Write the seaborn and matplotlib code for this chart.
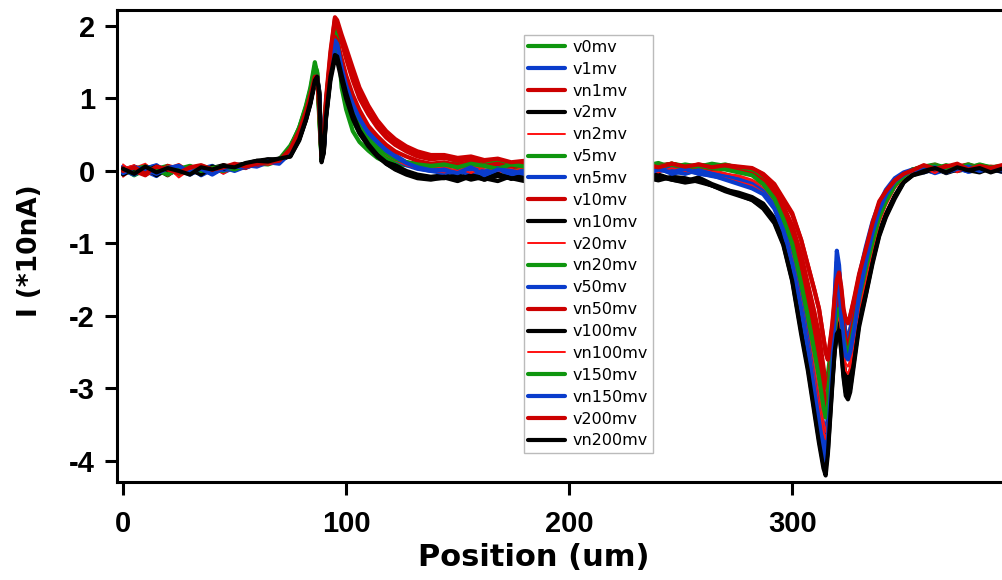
import matplotlib
matplotlib.use("Agg")
import matplotlib.pyplot as plt
import seaborn as sns

# ---- x positions (um) at which the traces were read ----
positions = [0, 5, 10, 15, 20, 25, 30, 35, 40, 45, 50, 55, 60, 65, 70,
             75, 79, 82, 84, 86, 87, 88, 89, 90, 91, 93, 95, 96, 98, 100, 103, 106, 110, 114, 118, 122, 127, 132, 138,
             144, 150, 156, 162, 168, 174, 180, 186, 192, 198, 204, 210, 216, 222, 228, 234, 240, 246, 252, 258, 264, 270, 276, 282,
             287, 292, 296, 300, 304, 307, 310, 312, 314, 315, 316, 318, 319, 320, 321, 322, 323, 324, 325, 326, 328, 330, 333, 336, 339, 342, 346, 350, 354,
             359, 364, 369, 374, 379, 384, 389, 394]

# ---- currents (*10 nA) read for each trace ----
v0mv = [0.03,-0.06,0.02,0.05,-0.02,0.04,-0.03,0.06,0.0,0.04,0.02,0.07,0.1,0.09,0.14,
        0.32,0.6,0.9,1.15,1.5,1.35,0.7,0.15,0.45,0.95,1.55,2.05,1.9,1.15,0.85,0.55,0.4,0.28,0.18,0.12,0.1,0.08,0.06,0.05,
        0.04,0.08,0.02,0.06,0.1,0.03,0.07,0.12,0.05,0.08,0.04,0.1,0.06,0.09,0.03,0.08,0.05,0.1,0.07,0.04,0.09,0.05,0.02,-0.02,
        -0.1,-0.3,-0.55,-0.85,-1.3,-1.7,-2.1,-2.4,-2.75,-2.9,-2.8,-2.3,-1.95,-1.7,-1.6,-1.8,-2.05,-2.25,-2.3,-2.2,-1.95,-1.6,-1.25,-0.9,-0.6,-0.4,-0.2,-0.08,0.0,
        0.05,0.02,0.07,0.03,0.06,0.01,0.05,0.03]
v1mv = [-0.04,0.05,0.0,-0.07,0.06,0.02,-0.05,0.03,0.07,-0.02,0.05,0.08,0.06,0.12,0.1,
        0.25,0.5,0.78,1.0,1.25,1.3,0.95,0.2,0.35,0.85,1.45,1.9,1.8,1.45,1.2,0.95,0.75,0.55,0.42,0.3,0.22,0.12,0.06,0.02,
        0.0,-0.05,0.04,-0.02,0.03,-0.06,0.02,0.05,-0.03,0.01,0.04,-0.04,0.02,0.0,0.05,-0.02,0.03,0.0,-0.04,0.02,-0.02,-0.05,-0.1,-0.15,
        -0.25,-0.45,-0.75,-1.15,-1.75,-2.3,-2.85,-3.2,-3.5,-3.6,-3.4,-2.5,-1.9,-1.25,-1.4,-1.8,-2.1,-2.35,-2.4,-2.3,-1.95,-1.6,-1.15,-0.8,-0.5,-0.3,-0.12,-0.05,0.02,
        0.0,0.04,-0.02,0.03,0.0,0.05,0.02,-0.01]
vn1mv = [0.05,-0.03,0.07,0.0,0.04,-0.05,0.06,0.02,-0.02,0.08,0.03,0.05,0.1,0.13,0.12,
         0.28,0.52,0.82,1.05,1.3,1.28,0.9,0.25,0.4,0.9,1.5,2.0,1.98,1.8,1.6,1.3,1.05,0.8,0.62,0.48,0.38,0.3,0.22,0.18,
         0.2,0.16,0.18,0.13,0.15,0.1,0.13,0.08,0.11,0.07,0.1,0.06,0.09,0.05,0.08,0.1,0.06,0.08,0.04,0.09,0.06,0.08,0.05,0.03,
         -0.05,-0.2,-0.4,-0.6,-0.95,-1.3,-1.65,-1.9,-2.3,-2.5,-2.6,-2.15,-1.8,-1.55,-1.45,-1.65,-1.95,-2.05,-2.1,-2.0,-1.75,-1.45,-1.1,-0.75,-0.45,-0.3,-0.15,-0.05,0.0,
         0.06,0.02,0.05,0.08,0.03,0.06,0.02,0.04]
v2mv = [0.02,0.06,-0.04,0.03,-0.06,0.05,0.0,-0.03,0.04,0.08,0.05,0.1,0.14,0.16,0.15,
        0.22,0.45,0.72,0.95,1.25,1.3,1.1,0.2,0.3,0.8,1.35,1.7,1.65,1.35,1.1,0.8,0.6,0.4,0.28,0.15,0.08,0.0,-0.05,-0.08,
        -0.06,-0.1,-0.04,-0.12,-0.07,-0.1,-0.05,-0.09,-0.12,-0.06,-0.1,-0.04,-0.08,-0.11,-0.06,-0.09,-0.13,-0.08,-0.1,-0.15,-0.2,-0.26,-0.3,-0.36,
        -0.45,-0.65,-0.95,-1.4,-2.05,-2.6,-3.1,-3.45,-3.75,-3.8,-3.6,-2.8,-2.4,-2.1,-2.0,-2.3,-2.6,-2.85,-2.9,-2.8,-2.4,-2.0,-1.6,-1.2,-0.85,-0.6,-0.35,-0.15,-0.05,
        0.02,-0.02,0.04,0.0,0.03,0.06,0.01,0.04]
vn2mv = [-0.08,0.04,0.1,-0.05,0.02,0.07,-0.02,0.03,0.05,-0.04,0.06,0.04,0.09,0.11,0.13,
         0.27,0.5,0.75,1.0,1.2,1.25,0.9,0.15,0.35,0.85,1.4,1.8,1.75,1.4,1.15,0.9,0.7,0.5,0.38,0.28,0.2,0.12,0.08,0.05,
         0.03,0.07,0.0,0.05,0.08,-0.02,0.06,0.03,0.09,0.01,0.05,0.07,0.0,0.04,0.08,0.02,0.06,0.0,0.05,0.03,0.0,-0.04,-0.06,-0.12,
         -0.2,-0.38,-0.65,-1.0,-1.55,-2.05,-2.6,-2.95,-3.3,-3.4,-3.3,-2.6,-2.2,-1.9,-1.8,-2.05,-2.35,-2.55,-2.6,-2.5,-2.15,-1.8,-1.35,-0.95,-0.6,-0.38,-0.18,-0.06,0.03,
         0.08,0.0,0.05,-0.02,0.07,0.02,0.05,0.0]
v5mv = [0.0,0.04,-0.05,0.03,0.07,-0.02,0.04,0.0,0.06,0.02,0.07,0.05,0.11,0.1,0.16,
        0.35,0.58,0.85,1.1,1.4,1.35,0.8,0.18,0.4,0.9,1.5,1.95,1.85,1.3,1.0,0.7,0.52,0.36,0.25,0.18,0.14,0.1,0.08,0.06,
        0.08,0.12,0.06,0.1,0.05,0.09,0.13,0.07,0.1,0.04,0.08,0.11,0.06,0.09,0.05,0.12,0.07,0.1,0.05,0.08,0.06,0.09,0.04,0.01,
        -0.12,-0.32,-0.6,-0.9,-1.4,-1.8,-2.2,-2.5,-2.85,-3.0,-2.9,-2.4,-2.05,-1.8,-1.7,-1.85,-2.1,-2.3,-2.35,-2.25,-2.0,-1.65,-1.3,-0.95,-0.62,-0.42,-0.2,-0.07,0.02,
        0.06,0.09,0.04,0.07,0.02,0.08,0.05,0.07]
vn5mv = [0.06,-0.02,0.03,0.08,-0.04,0.01,0.05,-0.06,0.02,0.05,0.0,0.06,0.09,0.14,0.12,
         0.24,0.48,0.74,0.98,1.22,1.25,1.0,0.22,0.3,0.78,1.35,1.75,1.72,1.4,1.15,0.88,0.68,0.48,0.35,0.25,0.16,0.08,0.03,0.0,
         -0.03,0.02,-0.06,0.0,0.04,-0.04,0.01,-0.07,0.03,-0.02,0.0,0.04,-0.05,0.02,-0.03,0.01,0.04,-0.04,0.0,-0.03,-0.07,-0.1,-0.16,-0.22,
         -0.3,-0.5,-0.8,-1.25,-1.85,-2.4,-3.0,-3.35,-3.75,-3.9,-3.6,-2.7,-2.0,-1.35,-1.5,-1.95,-2.25,-2.45,-2.5,-2.4,-2.05,-1.65,-1.2,-0.82,-0.52,-0.32,-0.13,-0.04,0.0,
         0.03,-0.03,0.02,0.05,-0.01,0.03,0.0,0.04]
v10mv = [-0.03,0.06,0.01,-0.04,0.07,0.03,-0.01,0.05,0.0,0.06,0.08,0.04,0.12,0.1,0.15,
         0.3,0.55,0.82,1.05,1.3,1.32,0.85,0.2,0.42,0.95,1.6,2.1,2.02,1.78,1.55,1.25,1.0,0.78,0.6,0.46,0.36,0.27,0.2,0.16,
         0.18,0.14,0.17,0.11,0.14,0.09,0.12,0.08,0.12,0.06,0.09,0.12,0.07,0.1,0.05,0.09,0.06,0.1,0.05,0.08,0.04,0.07,0.03,0.0,
         -0.08,-0.25,-0.48,-0.75,-1.15,-1.55,-1.95,-2.25,-2.7,-2.95,-3.0,-2.4,-2.0,-1.75,-1.6,-1.8,-2.05,-2.25,-2.3,-2.2,-1.9,-1.55,-1.2,-0.85,-0.52,-0.34,-0.16,-0.06,0.01,
         0.04,0.08,0.02,0.06,0.09,0.03,0.06,0.04]
vn10mv = [0.04,-0.03,0.05,-0.06,0.02,-0.02,0.06,0.03,-0.04,0.05,0.07,0.09,0.13,0.15,0.17,
          0.2,0.42,0.7,0.92,1.22,1.25,1.05,0.18,0.28,0.75,1.3,1.6,1.58,1.3,1.05,0.75,0.55,0.36,0.22,0.12,0.04,-0.03,-0.07,-0.1,
          -0.08,-0.12,-0.06,-0.1,-0.14,-0.07,-0.11,-0.05,-0.1,-0.13,-0.07,-0.1,-0.06,-0.12,-0.08,-0.11,-0.06,-0.12,-0.15,-0.12,-0.2,-0.27,-0.32,-0.38,
          -0.48,-0.68,-0.98,-1.45,-2.15,-2.65,-3.2,-3.6,-3.9,-4.0,-3.75,-2.85,-2.45,-2.2,-2.1,-2.4,-2.7,-2.95,-3.0,-2.9,-2.45,-2.05,-1.65,-1.22,-0.85,-0.6,-0.34,-0.14,-0.05,
          0.0,0.04,-0.03,0.02,0.05,0.0,0.03,-0.01]
v20mv = [0.09,-0.04,0.02,0.05,-0.07,0.03,0.08,-0.03,0.04,0.0,0.03,0.07,0.08,0.12,0.14,
         0.26,0.5,0.76,1.0,1.18,1.22,0.95,0.2,0.32,0.8,1.35,1.7,1.68,1.35,1.12,0.86,0.66,0.47,0.35,0.26,0.18,0.1,0.06,0.03,
         0.05,0.0,0.06,0.02,-0.03,0.07,0.03,0.0,0.05,0.08,0.02,0.0,0.06,0.03,0.07,0.0,0.04,0.06,0.01,0.05,0.02,-0.03,-0.08,-0.14,
         -0.24,-0.42,-0.7,-1.08,-1.65,-2.2,-2.75,-3.1,-3.45,-3.6,-3.45,-2.7,-2.3,-2.0,-1.9,-2.15,-2.45,-2.65,-2.7,-2.6,-2.2,-1.85,-1.4,-1.0,-0.65,-0.4,-0.2,-0.07,0.02,
         0.05,0.1,0.0,0.06,0.02,0.08,0.03,0.06]
vn20mv = [-0.02,0.03,0.06,0.0,0.05,-0.04,0.02,0.07,0.03,0.0,0.06,0.08,0.1,0.14,0.13,
          0.33,0.6,0.88,1.12,1.45,1.38,0.75,0.16,0.42,0.92,1.5,1.9,1.82,1.35,1.08,0.78,0.6,0.42,0.3,0.22,0.16,0.12,0.1,0.08,
          0.1,0.06,0.11,0.08,0.13,0.07,0.1,0.05,0.09,0.12,0.06,0.1,0.08,0.04,0.1,0.07,0.11,0.05,0.09,0.06,0.1,0.07,0.03,0.0,
          -0.14,-0.34,-0.62,-0.95,-1.48,-1.9,-2.35,-2.68,-3.05,-3.2,-3.05,-2.5,-2.1,-1.85,-1.8,-1.95,-2.2,-2.38,-2.4,-2.3,-2.0,-1.68,-1.3,-0.95,-0.62,-0.42,-0.2,-0.08,0.01,
          0.07,0.03,0.08,0.04,0.09,0.05,0.02,0.06]
v50mv = [0.01,-0.05,0.04,0.07,0.0,0.05,-0.04,0.02,0.06,0.01,0.04,0.07,0.1,0.11,0.14,
         0.26,0.5,0.76,1.0,1.28,1.3,1.0,0.22,0.34,0.8,1.35,1.7,1.66,1.38,1.15,0.9,0.7,0.5,0.38,0.27,0.18,0.1,0.04,0.0,
         0.02,-0.04,0.03,-0.01,0.05,-0.05,0.0,0.04,-0.03,0.02,-0.05,0.01,0.04,-0.02,0.03,-0.04,0.0,0.03,-0.03,0.01,-0.04,-0.08,-0.12,-0.18,
         -0.28,-0.48,-0.78,-1.2,-1.8,-2.35,-2.95,-3.35,-3.8,-4.0,-3.7,-2.55,-1.75,-1.1,-1.3,-1.75,-2.05,-2.25,-2.3,-2.2,-1.85,-1.45,-1.05,-0.7,-0.45,-0.26,-0.1,-0.02,0.02,
         -0.02,0.03,0.0,0.04,-0.01,0.02,0.05,0.01]
vn50mv = [0.04,0.0,-0.06,0.05,0.02,0.08,-0.02,0.04,0.01,0.06,0.03,0.09,0.08,0.13,0.15,
          0.3,0.55,0.8,1.03,1.28,1.3,0.88,0.2,0.38,0.88,1.45,1.85,1.8,1.55,1.32,1.05,0.84,0.62,0.48,0.36,0.27,0.2,0.14,0.1,
          0.12,0.08,0.13,0.07,0.1,0.05,0.09,0.12,0.06,0.09,0.04,0.08,0.11,0.05,0.08,0.03,0.07,0.1,0.04,0.07,0.03,0.05,0.0,-0.04,
          -0.14,-0.3,-0.55,-0.85,-1.3,-1.75,-2.2,-2.55,-3.0,-3.25,-3.3,-2.6,-2.15,-1.85,-1.7,-1.9,-2.15,-2.35,-2.4,-2.3,-2.0,-1.65,-1.25,-0.88,-0.55,-0.36,-0.17,-0.06,0.01,
          0.06,0.02,0.07,0.01,0.05,0.08,0.03,0.05]
v100mv = [-0.05,0.03,0.0,0.06,-0.03,0.04,0.02,-0.05,0.06,0.03,0.08,0.1,0.12,0.16,0.15,
          0.21,0.44,0.7,0.94,1.24,1.3,1.08,0.15,0.25,0.72,1.25,1.55,1.52,1.25,1.0,0.72,0.52,0.34,0.2,0.1,0.03,-0.04,-0.08,-0.1,
          -0.1,-0.06,-0.12,-0.08,-0.04,-0.11,-0.07,-0.13,-0.06,-0.09,-0.12,-0.05,-0.1,-0.07,-0.13,-0.08,-0.05,-0.11,-0.14,-0.09,-0.18,-0.25,-0.33,-0.4,
          -0.5,-0.7,-1.0,-1.5,-2.2,-2.7,-3.3,-3.7,-4.05,-4.1,-3.85,-2.9,-2.5,-2.25,-2.2,-2.45,-2.8,-3.05,-3.1,-3.0,-2.55,-2.1,-1.7,-1.25,-0.88,-0.62,-0.36,-0.15,-0.06,
          -0.02,0.03,0.0,0.05,0.01,-0.02,0.04,0.02]
vn100mv = [0.03,0.08,-0.05,0.01,0.06,-0.09,0.02,0.05,0.0,0.07,0.02,0.06,0.1,0.09,0.12,
           0.24,0.48,0.74,0.97,1.18,1.2,1.0,0.18,0.3,0.76,1.3,1.6,1.58,1.3,1.08,0.82,0.62,0.44,0.32,0.22,0.15,0.08,0.04,0.01,
           -0.02,0.04,-0.03,0.06,0.0,0.03,-0.05,0.05,0.01,-0.02,0.06,0.0,0.03,-0.04,0.05,0.02,-0.02,0.04,0.0,-0.03,-0.06,-0.1,-0.15,-0.2,
           -0.3,-0.5,-0.8,-1.2,-1.8,-2.35,-2.9,-3.25,-3.6,-3.7,-3.55,-2.8,-2.4,-2.1,-2.0,-2.25,-2.55,-2.75,-2.8,-2.7,-2.3,-1.9,-1.5,-1.08,-0.72,-0.48,-0.24,-0.09,0.0,
           0.04,-0.03,0.06,0.0,0.03,0.07,-0.02,0.03]
v150mv = [0.02,-0.03,0.05,0.01,-0.05,0.03,0.07,0.0,0.04,0.06,0.02,0.08,0.11,0.12,0.16,
          0.3,0.56,0.84,1.08,1.4,1.36,0.82,0.18,0.38,0.86,1.42,1.8,1.75,1.35,1.1,0.82,0.62,0.44,0.32,0.24,0.17,0.12,0.09,0.07,
          0.09,0.05,0.1,0.07,0.03,0.09,0.06,0.11,0.05,0.08,0.1,0.04,0.08,0.06,0.1,0.04,0.07,0.09,0.05,0.07,0.04,0.02,-0.02,-0.06,
          -0.18,-0.38,-0.66,-1.0,-1.55,-2.0,-2.5,-2.85,-3.25,-3.4,-3.25,-2.6,-2.2,-1.95,-1.9,-2.05,-2.3,-2.45,-2.5,-2.4,-2.1,-1.75,-1.35,-0.98,-0.64,-0.42,-0.2,-0.07,0.02,
          0.05,0.08,0.03,0.07,0.04,0.09,0.05,0.06]
vn150mv = [-0.03,0.05,0.02,-0.04,0.04,0.07,-0.02,0.03,-0.05,0.04,0.06,0.05,0.09,0.13,0.11,
           0.25,0.5,0.77,1.0,1.26,1.3,1.02,0.2,0.33,0.82,1.4,1.8,1.75,1.42,1.18,0.92,0.72,0.52,0.4,0.28,0.2,0.11,0.05,0.01,
           0.01,-0.03,0.05,-0.06,0.02,0.0,-0.04,0.03,0.0,-0.05,0.02,0.05,-0.03,0.0,0.04,-0.05,0.02,-0.02,0.03,-0.04,-0.06,-0.12,-0.18,-0.24,
           -0.32,-0.52,-0.82,-1.28,-1.9,-2.45,-3.05,-3.45,-3.85,-4.0,-3.7,-2.7,-2.0,-1.3,-1.55,-2.0,-2.35,-2.55,-2.6,-2.5,-2.15,-1.72,-1.25,-0.85,-0.54,-0.33,-0.14,-0.05,0.01,
           0.02,0.05,-0.02,0.03,0.06,0.0,0.04,0.02]
v200mv = [0.0,0.05,-0.04,0.06,0.02,-0.03,0.05,0.08,0.02,0.05,0.1,0.06,0.1,0.12,0.14,
          0.3,0.55,0.82,1.05,1.3,1.3,0.85,0.2,0.45,1.0,1.65,2.12,2.08,1.88,1.7,1.42,1.15,0.9,0.7,0.55,0.44,0.34,0.27,0.22,
          0.22,0.18,0.2,0.15,0.17,0.12,0.14,0.1,0.13,0.08,0.11,0.07,0.1,0.12,0.07,0.09,0.05,0.1,0.06,0.09,0.05,0.08,0.06,0.04,
          -0.04,-0.18,-0.38,-0.58,-0.95,-1.3,-1.65,-1.9,-2.3,-2.5,-2.6,-2.1,-1.75,-1.5,-1.4,-1.6,-1.9,-2.05,-2.1,-2.0,-1.72,-1.42,-1.08,-0.72,-0.42,-0.28,-0.13,-0.04,0.01,
          0.08,0.03,0.06,0.1,0.02,0.07,0.04,0.08]
vn200mv = [0.03,-0.04,0.06,-0.02,0.04,0.0,-0.05,0.05,0.02,0.07,0.05,0.11,0.14,0.13,0.17,
           0.2,0.44,0.72,0.95,1.25,1.3,1.05,0.12,0.25,0.75,1.3,1.6,1.58,1.32,1.08,0.78,0.56,0.37,0.22,0.1,0.02,-0.05,-0.1,-0.12,
           -0.09,-0.14,-0.07,-0.12,-0.05,-0.1,-0.14,-0.08,-0.11,-0.06,-0.12,-0.09,-0.14,-0.07,-0.1,-0.13,-0.08,-0.12,-0.16,-0.13,-0.2,-0.28,-0.34,-0.4,
           -0.52,-0.72,-1.02,-1.52,-2.25,-2.75,-3.35,-3.75,-4.1,-4.2,-3.9,-2.95,-2.5,-2.25,-2.2,-2.5,-2.85,-3.1,-3.15,-3.05,-2.6,-2.15,-1.72,-1.28,-0.9,-0.64,-0.38,-0.16,-0.06,
           0.0,0.04,-0.02,0.05,0.01,0.04,-0.02,0.03]

series_names = ["v0mv", "v1mv", "vn1mv", "v2mv", "vn2mv", "v5mv", "vn5mv", "v10mv", "vn10mv",
                "v20mv", "vn20mv", "v50mv", "vn50mv", "v100mv", "vn100mv", "v150mv", "vn150mv",
                "v200mv", "vn200mv"]
series_values = [v0mv, v1mv, vn1mv, v2mv, vn2mv, v5mv, vn5mv, v10mv, vn10mv,
                 v20mv, vn20mv, v50mv, vn50mv, v100mv, vn100mv, v150mv, vn150mv,
                 v200mv, vn200mv]

# styles (colour cycle of the original graph, thin bright red for three traces)
GREEN, BLUE, DRED, BLACK, RED = "#0f960f", "#0a3ccc", "#cc0000", "#000000", "#ff1010"
colors = [GREEN, BLUE, DRED, BLACK, RED, GREEN, BLUE, DRED, BLACK, RED,
          GREEN, BLUE, DRED, BLACK, RED, GREEN, BLUE, DRED, BLACK]
thin = {"vn2mv", "v20mv", "vn100mv"}

for n, v in zip(series_names, series_values):
    if len(v) != len(positions):
        raise ValueError(f"{n}: {len(v)} values vs {len(positions)} positions")

sns.set_style("ticks")
plt.rcParams["font.family"] = ["DejaVu Sans"]
plt.rcParams["axes.unicode_minus"] = False

fig = plt.figure(figsize=(10.03, 5.80), dpi=100)
ax = fig.add_axes([117 / 1003, 1 - 482 / 580, 1 - 117 / 1003, (482 - 10) / 580])

for name, vals, col in zip(series_names, series_values, colors):
    sns.lineplot(x=positions, y=vals, ax=ax, color=col,
                 linewidth=1.4 if name in thin else 3.0, label=name,
                 estimator=None, sort=False)

ax.set_xlim(-2.7, 394.5)
ax.set_ylim(-4.29, 2.22)
ax.set_xticks([0, 100, 200, 300])
ax.set_yticks([-4, -3, -2, -1, 0, 1, 2])

for side in ("left", "bottom", "top"):
    ax.spines[side].set_linewidth(2.2)
    ax.spines[side].set_color("black")
ax.spines["right"].set_visible(False)

ax.tick_params(axis="both", direction="out", length=9, width=2.2, color="black",
               labelcolor="black")
ax.tick_params(axis="x", pad=11)
ax.tick_params(axis="y", pad=7)
for lab in ax.get_xticklabels() + ax.get_yticklabels():
    lab.set_fontfamily("Liberation Sans")
    lab.set_fontweight("bold")
    lab.set_fontsize(21)

ax.set_xlabel("Position (um)", fontsize=22, fontweight="bold", color="black")
ax.set_ylabel("I (*10nA)", fontsize=19, fontweight="bold", color="black")
ax.xaxis.set_label_coords(0.47, -0.13)
ax.yaxis.set_label_coords(-0.083, 0.49)

leg = ax.legend(loc="upper left", bbox_to_anchor=(0.459, 0.947), borderaxespad=0,
                fontsize=11.5, frameon=True, fancybox=False, edgecolor="#bbbbbb",
                framealpha=1, handlelength=2.3, handletextpad=0.45,
                labelspacing=0.43, borderpad=0.3)
leg.get_frame().set_linewidth(1.0)
for t in leg.get_texts():
    t.set_color("black")

fig.savefig("out.png", dpi=100)
